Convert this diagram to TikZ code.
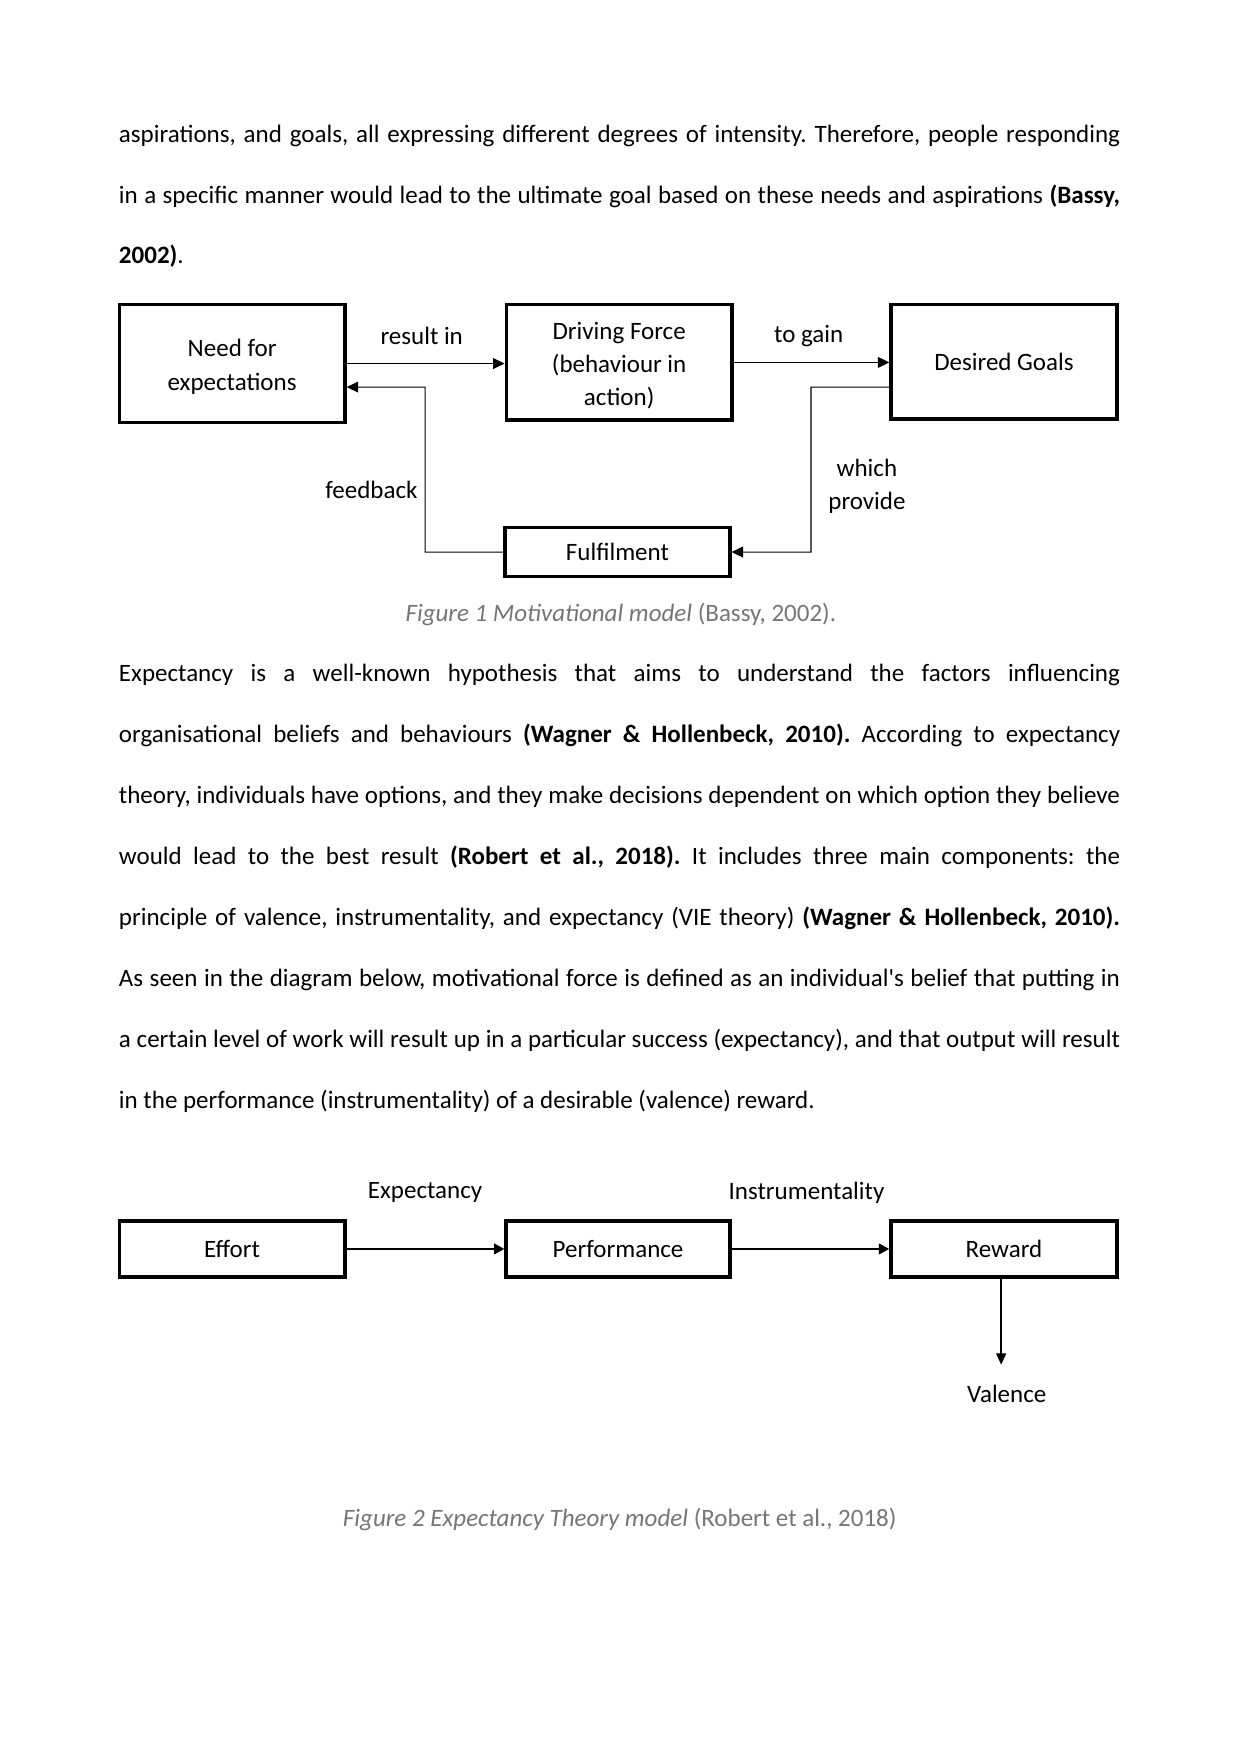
\documentclass[tikz,border=0pt]{standalone}
\usepackage{fontspec}
\setmainfont{Carlito}[Ligatures=TeXOff]
\usetikzlibrary{arrows.meta}
\definecolor{capgray}{RGB}{118,118,118}
\frenchspacing
\newcommand{\jline}[1]{\makebox[480.4pt][s]{#1}}
\newcommand{\mlines}[1]{\raisebox{-1.6pt}[\height][\depth]{\begin{tabular}{@{}c@{}}#1\end{tabular}}}
\begin{document}
\begin{tikzpicture}[x=0.5368pt,y=-0.5368pt,
  font=\fontsize{12pt}{15.9pt}\selectfont,
  ln/.style={anchor=base west,inner sep=0pt},
  boxa/.style={draw,line width=1.6pt,align=center,inner sep=0pt,minimum width=108.4pt},
  lbl/.style={inner sep=0pt,align=center},
  capt/.style={inner sep=0pt,text=capgray},
  arr/.style={-{Triangle[length=5.5pt,width=5.2pt]},line width=0.5pt},
  arrb/.style={-{Triangle[length=5pt,width=5pt]},line width=1.3pt},
  arrc/.style={-{Triangle[length=5.5pt,width=4.8pt]},line width=0.8pt}]
\useasboundingbox[fill=white] (0,0) rectangle (1109,1568);

% paragraph 1
\node[ln] (p1) at (106,127) {\jline{aspirations, and goals, all expressing different degrees of intensity. Therefore, people responding}};
\node[ln] (p2) at (106,181.5) {\jline{in a specific manner would lead to the ultimate goal based on these needs and aspirations \textbf{(Bassy,}}};
\node[ln] (p3) at (106,235.5) {\textbf{2002)}.};

% figure 1
\node[boxa,minimum height=56.4pt] (need) at (207.5,325) {\mlines{Need for\\expectations}};
\node[boxa,minimum height=55.3pt] (drive) at (553.5,324) {\mlines{Driving Force\\(behaviour in\\action)}};
\node[boxa,minimum height=54.8pt] (goals) at (897.5,323.5) {Desired Goals};
\node[boxa,minimum width=107.9pt,minimum height=23.6pt] (ful) at (552,493.5) {Fulfilment};

\node[lbl] (lres) at (377,300) {result in};
\node[lbl] (lgain) at (723,300) {to gain};
\node[lbl] (lfb) at (332,438) {feedback};
\node[lbl] (lwp) at (775,435) {which\\provide};

\draw[arr] (need.east) -- (need.east -| drive.west);
\draw[arr] (drive.east) -- (drive.east -| goals.west);
\coordinate (wp) at ([yshift=-12.1pt]goals.west);
\coordinate (wpbend) at (725,346);
\draw[arr] (wp) -- (wpbend) |- (ful.east);
\coordinate (fbin) at ([yshift=-11.3pt]need.east);
\coordinate (fbbend) at (380,346);
\draw[arr] (ful.west) -| (fbbend) -- (fbin);

\node[capt] (cap1) at (555,549) {\textit{Figure 1 Motivational model} (Bassy, 2002).};

% paragraph 2
\node[ln] (q1) at (106,609) {\jline{Expectancy is a well-known hypothesis that aims to understand the factors influencing}};
\node[ln] (q2) at (106,664) {\jline{organisational beliefs and behaviours \textbf{(Wagner \& Hollenbeck, 2010).} According to expectancy}};
\node[ln] (q3) at (106,718.5) {\jline{theory, individuals have options, and they make decisions dependent on which option they believe}};
\node[ln] (q4) at (106,773) {\jline{would lead to the best result \textbf{(Robert et al., 2018).} It includes three main components: the}};
\node[ln] (q5) at (106,827.5) {\jline{principle of valence, instrumentality, and expectancy (VIE theory) \textbf{(Wagner \& Hollenbeck, 2010).}}};
\node[ln] (q6) at (106,882) {\jline{As seen in the diagram below, motivational force is defined as an individual's belief that putting in}};
\node[ln] (q7) at (106,936.5) {\jline{a certain level of work will result up in a particular success (expectancy), and that output will result}};
\node[ln] (q8) at (106,991) {in the performance (instrumentality) of a desirable (valence) reward.};

% figure 2
\node[boxa,minimum height=26.8pt] (eff) at (207.5,1116.5) {Effort};
\node[boxa,minimum width=107.4pt,minimum height=26.8pt] (perf) at (552.5,1116.5) {Performance};
\node[boxa,minimum height=26.8pt] (rew) at (897.5,1116.5) {Reward};

\node[lbl] (lexp) at (380,1066) {Expectancy};
\node[lbl] (linst) at (721,1066) {Instrumentality};
\node[lbl] (lval) at (900,1246) {Valence};

\draw[arrb] (eff.east) -- (perf.west);
\draw[arrb] (perf.east) -- (rew.west);
\coordinate (valtip) at (895,1220);
\draw[arrc] (rew.south -| valtip) -- (valtip);

\node[capt] (cap2) at (554,1358) {\textit{Figure 2 Expectancy Theory model} (Robert et al., 2018)};
\end{tikzpicture}
\end{document}
